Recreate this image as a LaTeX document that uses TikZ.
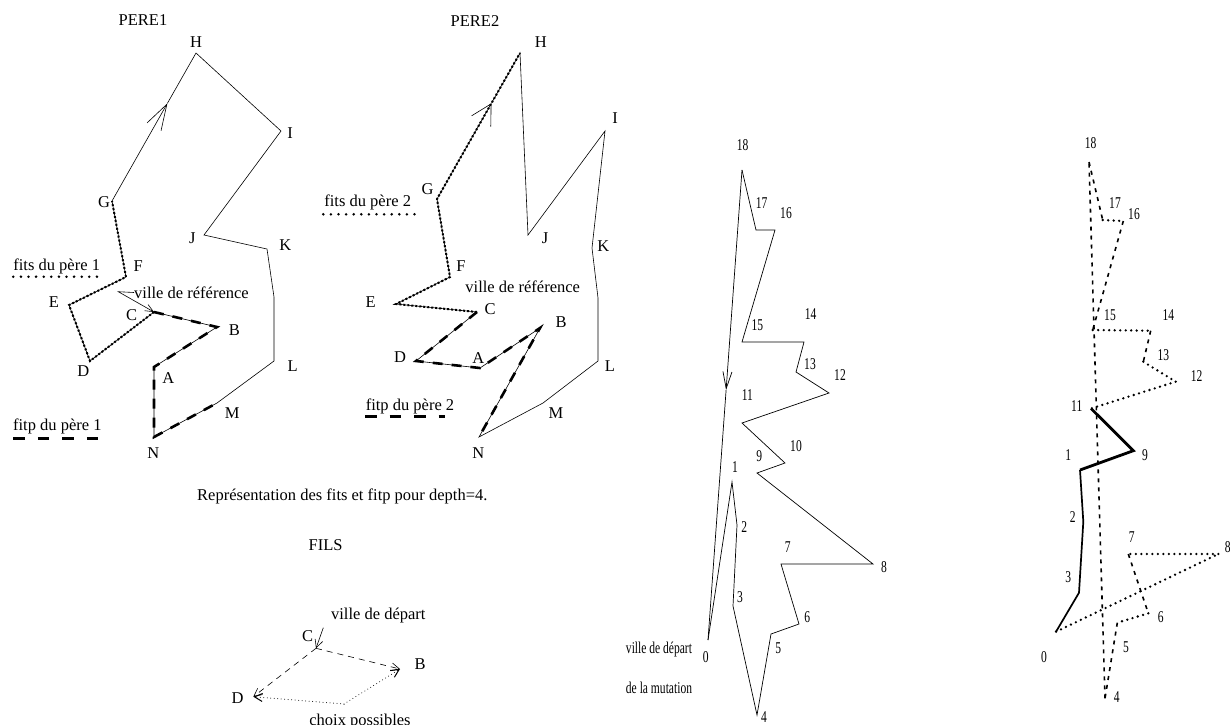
\documentclass[tikz,border=0pt]{standalone}
\usepackage{fontspec}
\setmainfont{Liberation Serif}
\newfontfamily\narrowfont[FakeStretch=0.7]{Liberation Serif}
\usetikzlibrary{arrows.meta}
\begin{document}
\begin{tikzpicture}[x=1pt,y=-1pt,
  lbl/.style={inner sep=0pt, font=\fontsize{16.5}{19}\selectfont},
  nlbl/.style={inner sep=0pt, font=\narrowfont\fontsize{16.5}{19}\selectfont},
  tour/.style={line width=0.6pt},
  fits/.style={line width=2pt, dash pattern=on 2pt off 2pt},
  fitp/.style={line width=2.6pt, dash pattern=on 10pt off 9pt},
  fitsleg/.style={line width=2.8pt, line cap=round, dash pattern=on 0pt off 7.6pt},
  fitpleg/.style={line width=3pt, dash pattern=on 11.5pt off 13pt},
  mid/.style={line width=0.7pt},
  rdot/.style={line width=2.6pt, line cap=round, dash pattern=on 0pt off 5.5pt},
  rdash/.style={line width=1.6pt, dash pattern=on 4pt off 5pt},
  rthick/.style={line width=2.8pt, line join=miter},
  rmed/.style={line width=1.7pt},
  fdash/.style={line width=0.6pt, dash pattern=on 6pt off 5pt},
  fdot/.style={line width=1pt, line cap=round, dash pattern=on 0pt off 3.5pt},
  barb/.style={-{Straight Barb[length=8pt,width=8pt]}}
]
\useasboundingbox (0,0) rectangle (1230,724);

% ---------------- PERE1 ----------------
\coordinate (aA) at (154,367);
\coordinate (aB) at (217,327);
\coordinate (aC) at (154,312);
\coordinate (aD) at (90,361);
\coordinate (aE) at (69,305);
\coordinate (aF) at (126,277);
\coordinate (aG) at (112,201);
\coordinate (aH) at (196,53);
\coordinate (aI) at (281,131);
\coordinate (aJ) at (204,235);
\coordinate (aK) at (267,249);
\coordinate (aKL) at (274,297);
\coordinate (aL) at (274,361);
\coordinate (aM) at (217,403);
\coordinate (aN) at (154,437);
\coordinate (aArr) at (167.4,103.3);
\coordinate (aRef) at (118.3,291.7);

\draw[tour] (aA) -- (aB) -- (aC) -- (aD) -- (aE) -- (aF) -- (aG);
\draw[tour,-{Straight Barb[length=26pt,width=16pt]}] (aG) -- (aArr);
\draw[tour] (aArr) -- (aH) -- (aI) -- (aJ) -- (aK) -- (aKL) -- (aL) -- (aM) -- (aN) -- (aA);
\draw[fits] (aC) -- (aD) -- (aE) -- (aF) -- (aG);
\draw[fitp] (aC) -- (aB) -- (aA) -- (aN) -- (aM);

\node[lbl] (tP1) at (143,20) {PERE1};
\node[lbl] (laH) at (196,41.7) {H};
\node[lbl] (laI) at (290,133.3) {I};
\node[lbl] (laG) at (104,202.3) {G};
\node[lbl] (laJ) at (192.3,237.7) {J};
\node[lbl] (laK) at (285.3,245) {K};
\node[lbl] (laF) at (138.3,266) {F};
\node[lbl] (laE) at (54,301.7) {E};
\node[lbl] (laC) at (131.7,315) {C};
\node[lbl] (laB) at (234.3,330) {B};
\node[lbl] (laD) at (83.3,370.7) {D};
\node[lbl] (laA) at (168.3,377.7) {A};
\node[lbl] (laL) at (292.7,365.7) {L};
\node[lbl] (laM) at (232.3,413.3) {M};
\node[lbl] (laN) at (153.3,452.7) {N};
\node[lbl, anchor=west] (aRefT) at (134,292.5) {ville de référence};
\draw[tour,-{Straight Barb[length=8pt,width=7pt]}] (aRefT.west) -- (aRef) -- (aC);

\node[lbl] (aLegS) at (56.7,266.7) {fits du père 1};
\coordinate (aLs1) at (13.3,276.7);
\coordinate (aLs2) at (97,276.7);
\draw[fitsleg] (aLs1) -- (aLs2);
\node[lbl] (aLegP) at (57.3,426.7) {fitp du père 1};
\coordinate (aLp1) at (13.3,438.3);
\coordinate (aLp2) at (104,438.3);
\draw[fitpleg] (aLp1) -- (aLp2);

% ---------------- PERE2 ----------------
\coordinate (bA) at (480,368);
\coordinate (bB) at (540,328);
\coordinate (bC) at (477,312);
\coordinate (bD) at (416,361);
\coordinate (bE) at (396,304);
\coordinate (bF) at (450,277);
\coordinate (bG) at (437,199);
\coordinate (bH) at (520,53);
\coordinate (bI) at (605,131);
\coordinate (bJ) at (528,235);
\coordinate (bK) at (592,248);
\coordinate (bKL) at (598,298);
\coordinate (bL) at (598,361);
\coordinate (bM) at (543,403);
\coordinate (bN) at (479,437);
\coordinate (bArr) at (491.4,103.3);

\draw[tour] (bC) -- (bE) -- (bF) -- (bG);
\draw[tour,-{Straight Barb[length=20pt,width=22pt]}] (bG) -- (bArr);
\draw[tour] (bArr) -- (bH) -- (bJ) -- (bI) -- (bK) -- (bKL) -- (bL) -- (bM) -- (bN) -- (bB) -- (bA) -- (bD) -- (bC);
\draw[fits] (bC) -- (bE) -- (bF) -- (bG) -- (bH);
\draw[fitp] (bC) -- (bD) -- (bA) -- (bB) -- (bN);

\node[lbl] (tP2) at (475,20.7) {PERE2};
\node[lbl] (lbH) at (540.7,42.3) {H};
\node[lbl] (lbI) at (615,118.3) {I};
\node[lbl] (lbG) at (427.7,189.3) {G};
\node[lbl] (lbJ) at (545,237.7) {J};
\node[lbl] (lbK) at (603.3,245.7) {K};
\node[lbl] (lbF) at (461,266) {F};
\node[lbl] (lbE) at (370.7,301.7) {E};
\node[lbl] (lbC) at (490,309.3) {C};
\node[lbl] (lbB) at (561,321.7) {B};
\node[lbl] (lbD) at (400,356.7) {D};
\node[lbl] (lbA) at (478.3,357.7) {A};
\node[lbl] (lbL) at (610,365.7) {L};
\node[lbl] (lbM) at (556,412.7) {M};
\node[lbl] (lbN) at (478.3,453.3) {N};
\node[lbl] (bRefT) at (522.7,286.7) {ville de référence};

\node[lbl] (bLegS) at (367.7,202.7) {fits du père 2};
\coordinate (bLs1) at (323.3,214.3);
\coordinate (bLs2) at (416.7,214.3);
\draw[fitsleg] (bLs1) -- (bLs2);
\node[lbl] (bLegP) at (410,406.7) {fitp du père 2};
\coordinate (bLp1) at (365,416.7);
\coordinate (bLp2) at (445,416.7);
\draw[fitpleg] (bLp1) -- (bLp2);

\node[lbl, anchor=west] (capt) at (197,496) {Représentation des fits et fitp pour depth=4.};
\node[lbl] (fils) at (325.7,545) {FILS};

% ---------------- FILS ----------------
\coordinate (fC) at (316,648.3);
\coordinate (fB) at (400,669);
\coordinate (fD) at (253.3,696.7);
\coordinate (fM) at (344,704);
\coordinate (fS) at (323.3,627.7);
\node[lbl] (fDep) at (378.3,615.7) {ville de départ};
\node[lbl] (lfC) at (307.7,636) {C};
\node[lbl] (lfB) at (420,664) {B};
\node[lbl] (lfD) at (237.7,698.3) {D};
\node[lbl, anchor=base] (fChoix) at (360,725.5) {choix possibles};
\draw[tour,barb] (fS) -- (fC);
\draw[fdash,barb] (fC) -- (fB);
\draw[fdash,barb] (fC) -- (fD);
\draw[fdot,barb] (fM) -- (fD);
\draw[fdot,barb] (fM) -- (fB);

% ---------------- middle graph ----------------
\coordinate (m0) at (708,640);
\coordinate (m1) at (732,482);
\coordinate (m2) at (737,525);
\coordinate (m3) at (733,606);
\coordinate (m4) at (757,715);
\coordinate (m5) at (771,634);
\coordinate (m6) at (799,624);
\coordinate (m7) at (781,564);
\coordinate (m8) at (873,564);
\coordinate (m9) at (757,473);
\coordinate (m10) at (785,463);
\coordinate (m11) at (742,423);
\coordinate (m12) at (829,393);
\coordinate (m13) at (796,372);
\coordinate (m14) at (804,342);
\coordinate (m15) at (742,342);
\coordinate (m16) at (775,230);
\coordinate (m17) at (756,230);
\coordinate (m18) at (742,170);
\coordinate (mArr) at (726.1,390);
\draw[mid] (m0) -- (m1) -- (m2) -- (m3) -- (m4) -- (m5) -- (m6) -- (m7) -- (m8) -- (m9) -- (m10) -- (m11) -- (m12) -- (m13) -- (m14) -- (m15) -- (m16) -- (m17) -- (m18);
\draw[mid,-{Straight Barb[length=17pt,width=9pt]}] (m18) -- (mArr);
\draw[mid] (mArr) -- (m0);

\node[nlbl] (lm18) at (742.7,145) {18};
\node[nlbl] (lm17) at (761.7,203.3) {17};
\node[nlbl] (lm16) at (786,213.3) {16};
\node[nlbl] (lm15) at (757.3,325) {15};
\node[nlbl] (lm14) at (810.7,314) {14};
\node[nlbl] (lm13) at (810,364) {13};
\node[nlbl] (lm12) at (840,375) {12};
\node[nlbl] (lm11) at (747.3,395) {11};
\node[nlbl] (lm10) at (796,446) {10};
\node[nlbl] (lm9) at (759.3,456) {9};
\node[nlbl] (lm1) at (735,466.7) {1};
\node[nlbl] (lm2) at (744.3,527.3) {2};
\node[nlbl] (lm7) at (787.7,546.7) {7};
\node[nlbl] (lm8) at (884,566.7) {8};
\node[nlbl] (lm3) at (740,596.7) {3};
\node[nlbl] (lm6) at (807.3,616.7) {6};
\node[nlbl] (lm5) at (778.3,647.7) {5};
\node[nlbl] (lm0) at (705.7,657.3) {0};
\node[nlbl] (lm4) at (764,716.7) {4};
\node[nlbl] (mDep1) at (659,649.3) {ville de départ};
\node[nlbl] (mDep2) at (659,688.3) {de la mutation};

% ---------------- right graph ----------------
\coordinate (r0) at (1056,631.7);
\coordinate (r1) at (1080,470);
\coordinate (r2) at (1083.3,521.7);
\coordinate (r3) at (1079,592.7);
\coordinate (r4) at (1105,698.3);
\coordinate (r5) at (1117.3,622.7);
\coordinate (r6) at (1148.3,613.3);
\coordinate (r7) at (1128.3,554);
\coordinate (r8) at (1218.3,554);
\coordinate (r9) at (1133.3,450.7);
\coordinate (r11) at (1091,408.5);
\coordinate (r12) at (1175.7,381.7);
\coordinate (r13) at (1143.3,361.7);
\coordinate (r14) at (1150.7,330.7);
\coordinate (r15) at (1092.7,330);
\coordinate (r16) at (1123.3,221);
\coordinate (r17) at (1102.7,220);
\coordinate (r18) at (1089,162);

\draw[rthick] (r11) -- (r9) -- (r1);
\draw[rmed] (r1) -- (r2) -- (r3) -- (r0);
\draw[rdot] (r0) -- (r8);
\draw[rdot] (r8) -- (r7);
\draw[rdash] (r7) -- (r6);
\draw[rdot] (r6) -- (r5);
\draw[rdash] (r5) -- (r4);
\draw[rdash] (r4) -- (r18);
\draw[rdash] (r18) -- (r17);
\draw[rdot] (r17) -- (r16);
\draw[rdash] (r16) -- (r15);
\draw[rdot] (r15) -- (r14);
\draw[rdash] (r14) -- (r13);
\draw[rdot] (r13) -- (r12);
\draw[rdot] (r12) -- (r11);

\node[nlbl] (lr18) at (1090.7,143.3) {18};
\node[nlbl] (lr17) at (1115,203.3) {17};
\node[nlbl] (lr16) at (1134,214.3) {16};
\node[nlbl] (lr15) at (1110,315) {15};
\node[nlbl] (lr14) at (1168.3,315) {14};
\node[nlbl] (lr13) at (1163.3,355) {13};
\node[nlbl] (lr12) at (1196.7,376) {12};
\node[nlbl] (lr11) at (1076.7,406) {11};
\node[nlbl] (lr1) at (1068.3,455) {1};
\node[nlbl] (lr9) at (1145,455) {9};
\node[nlbl] (lr2) at (1072.7,516.7) {2};
\node[nlbl] (lr7) at (1131.7,536.7) {7};
\node[nlbl] (lr8) at (1227.7,546.7) {8};
\node[nlbl] (lr3) at (1068.3,576.7) {3};
\node[nlbl] (lr6) at (1160.7,617.3) {6};
\node[nlbl] (lr5) at (1126,646.7) {5};
\node[nlbl] (lr0) at (1044,656.7) {0};
\node[nlbl] (lr4) at (1116.7,697.3) {4};
\end{tikzpicture}
\end{document}
